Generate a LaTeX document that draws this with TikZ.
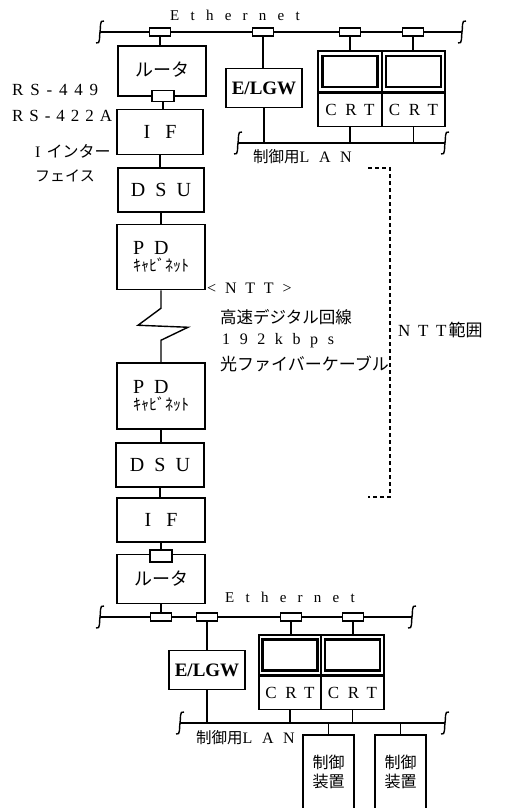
\documentclass[tikz,border=0pt]{standalone}
\usepackage{fontspec}
\setmainfont{Liberation Serif}
\newfontfamily\jp{Noto Sans CJK JP}
\newcommand{\fsz}[1]{\fontsize{#1}{#1}\selectfont}
\newcommand{\ls}[2]{{\addfontfeature{LetterSpace=#1}#2}}
\tikzset{
  box/.style={draw,line width=1.5pt,inner sep=0pt},
  tap/.style={draw,fill=white,line width=1.2pt,minimum width=21pt,minimum height=8pt,inner sep=0pt},
  scr/.style={draw,line width=2.2pt,minimum width=55pt,minimum height=31pt,inner sep=0pt},
  ctl/.style={minimum width=51pt,minimum height=74pt,anchor=north,inner sep=0pt,align=center,font=\jp\fsz{16}},
  wire/.style={line width=1.4pt},
  lbl/.style={anchor=west,inner sep=0pt},
  brk/.pic={\draw[line width=1.4pt] (4,-11) .. controls (-1,-13) and (1,-3) .. (0,0) .. controls (-1,3) and (1,13) .. (-4,11);}
}
\begin{document}
\begin{tikzpicture}[x=1pt,y=-1pt]
\useasboundingbox (0,0) rectangle (504,808);
% upper site
\coordinate (e1a) at (100,32);
\coordinate (e1b) at (462,32);
\coordinate (l1a) at (238,143);
\coordinate (l1b) at (445,143);
\draw[wire] (e1a) -- (e1b);
\draw[wire] (l1a) -- (l1b);
\pic at (e1a) {brk}; \pic at (e1b) {brk};
\pic at (l1a) {brk}; \pic at (l1b) {brk};
\node[lbl] (eth1) at (170,15) {\fsz{15}\ls{75}{Ethernet}};
\node[tap] (ta1) at (160,32) {};
\node[tap] (tb1) at (263,32) {};
\node[tap] (tc1) at (350,32) {};
\node[tap] (td1) at (413,32) {};
\node[box,minimum width=88pt,minimum height=50pt] (rt1) at (162,71) {\raisebox{3pt}{\jp\fsz{18}ルータ}};
\node[tap,minimum width=22pt,minimum height=11pt] (tr1) at (163,96) {};
\node[box,minimum width=86pt,minimum height=45pt] (if1) at (160,132) {\fsz{20}\ls{75}{IF}};
\node[box,minimum width=86pt,minimum height=44pt] (dsu1) at (161,190) {\fsz{20}\ls{50}{DSU}};
\node[box,minimum width=88pt,minimum height=65pt,align=left] (pd1) at (161,257) {\fsz{20}\ls{50}{PD}\\[2pt]\jp\fsz{16}ｷｬﾋﾞﾈｯﾄ};
\node[box,minimum width=76pt,minimum height=39pt] (gw1) at (264,88) {\fsz{19}\bfseries E/LGW};
\node[box,minimum width=64pt,minimum height=41pt] (cs1) at (350,71.5) {};
\node[scr] (sc1) at (cs1) {};
\node[box,minimum width=64pt,minimum height=33pt,anchor=north] (cr1) at (cs1.south) {\fsz{17}\ls{50}{CRT}};
\node[box,minimum width=63pt,minimum height=41pt] (cs2) at (413.5,71.5) {};
\node[scr] (sc2) at (cs2) {};
\node[box,minimum width=63pt,minimum height=33pt,anchor=north] (cr2) at (cs2.south) {\fsz{17}\ls{50}{CRT}};
\node[lbl] (lan1) at (253,157) {\jp\fsz{15.5}制御用\rmfamily\fsz{16}\ls{60}{LAN}};
\draw[wire] (ta1.south) -- (ta1.south |- rt1.north);
\draw[wire] (tr1.south) -- (tr1.south |- if1.north);
\draw[wire] (if1.south) -- (if1.south |- dsu1.north);
\draw[wire] (dsu1.south) -- (dsu1.south |- pd1.north);
\draw[wire] (tb1.south) -- (tb1.south |- gw1.north);
\draw[wire] (gw1.south) -- (gw1.south |- l1a);
\draw[wire] (tc1.south) -- (tc1.south |- cs1.north);
\draw[wire] (td1.south) -- (td1.south |- cs2.north);
\draw[wire] (cr1.south) -- (cr1.south |- l1a);
\draw[wire] (cr2.south) -- (cr2.south |- l1a);
\node[lbl] (rs1) at (12,90) {\fsz{17}\ls{40}{RS-449}};
\node[lbl] (rs2) at (12,116) {\fsz{17}\ls{35}{RS-422A}};
\node[lbl] (ifn1) at (35,151) {\fsz{16}I\kern6pt\jp インター};
\node[lbl] (ifn2) at (35,176) {\jp\fsz{15}フェイス};
% NTT line
\node[box,minimum width=88pt,minimum height=66pt,align=left] (pd2) at (161,396) {\fsz{20}\ls{50}{PD}\\[2pt]\jp\fsz{16}ｷｬﾋﾞﾈｯﾄ};
\draw[wire] (pd1.south) -- ++(0,18) -- ++(-23,17) -- ++(50,2) -- ++(-27,13) -- (pd2.north);
\node[lbl] (ntt) at (207,288) {\fsz{16}\ls{55}{<NTT>}};
\node[lbl] (ln1) at (220,317) {\jp\fsz{16.5}高速デジタル回線};
\node[lbl] (ln2) at (222,341) {\fsz{16}\ls{60}{192kbps}};
\node[lbl] (ln3) at (220,364) {\jp\fsz{17}光ファイバーケーブル};
\coordinate (nt1) at (368,168);
\coordinate (nt2) at (368,497);
\draw[line width=1.6pt,dash pattern=on 4pt off 3pt] (nt1) -- ++(22,0) |- (nt2);
\node[lbl] (ntta) at (398,330) {\fsz{17}\ls{45}{NTT}\kern2pt\jp 範囲};
% lower site
\node[box,minimum width=88pt,minimum height=44pt] (dsu2) at (160,465) {\fsz{20}\ls{50}{DSU}};
\node[box,minimum width=88pt,minimum height=44pt] (if2) at (161,520) {\fsz{20}\ls{75}{IF}};
\node[box,minimum width=88pt,minimum height=49pt] (rt2) at (161,579) {\raisebox{-3pt}{\jp\fsz{18}ルータ}};
\node[tap,minimum width=22pt,minimum height=12pt] (tr2) at (161,556) {};
\draw[wire] (pd2.south) -- (pd2.south |- dsu2.north);
\draw[wire] (dsu2.south) -- (dsu2.south |- if2.north);
\draw[wire] (if2.south) -- (tr2.north);
\coordinate (e2a) at (100,617);
\coordinate (e2b) at (412,617);
\coordinate (l2a) at (180,723);
\coordinate (l2b) at (445,723);
\draw[wire] (e2a) -- (e2b);
\draw[wire] (l2a) -- (l2b);
\pic at (e2a) {brk}; \pic at (e2b) {brk};
\pic at (l2a) {brk}; \pic at (l2b) {brk};
\node[lbl] (eth2) at (225,597) {\fsz{15}\ls{75}{Ethernet}};
\node[tap] (ta2) at (161,617) {};
\node[tap] (tb2) at (207,617) {};
\node[tap] (tc2) at (291,617) {};
\node[tap] (td2) at (353,617) {};
\node[box,minimum width=76pt,minimum height=39pt] (gw2) at (207,670) {\fsz{19}\bfseries E/LGW};
\node[box,minimum width=62pt,minimum height=40pt] (cs3) at (290,655) {};
\node[scr] (sc3) at (cs3) {};
\node[box,minimum width=62pt,minimum height=33pt,anchor=north] (cr3) at (cs3.south) {\fsz{17}\ls{50}{CRT}};
\node[box,minimum width=63pt,minimum height=40pt] (cs4) at (352.5,655) {};
\node[scr] (sc4) at (cs4) {};
\node[box,minimum width=63pt,minimum height=33pt,anchor=north] (cr4) at (cs4.south) {\fsz{17}\ls{50}{CRT}};
\node[lbl] (lan2) at (196,738) {\jp\fsz{15.5}制御用\rmfamily\fsz{16}\ls{60}{LAN}};
\node[ctl] (ctl1) at (328.5,735) {制御\\[3pt]装置};
\node[ctl] (ctl2) at (400.5,735) {制御\\[3pt]装置};
\draw[line width=1.5pt] (ctl1.south west) -- (ctl1.north west) -- (ctl1.north east) -- (ctl1.south east);
\draw[line width=1.5pt] (ctl2.south west) -- (ctl2.north west) -- (ctl2.north east) -- (ctl2.south east);
\draw[wire] (rt2.south) -- (ta2.north);
\draw[wire] (tb2.south) -- (gw2.north);
\draw[wire] (gw2.south) -- (gw2.south |- l2a);
\draw[wire] (tc2.south) -- (tc2.south |- cs3.north);
\draw[wire] (td2.south) -- (td2.south |- cs4.north);
\draw[wire] (cr3.south) -- (cr3.south |- l2a);
\draw[wire] (cr4.south) -- (cr4.south |- l2a);
\draw[wire] (ctl1.north) -- (ctl1.north |- l2a);
\draw[wire] (ctl2.north) -- (ctl2.north |- l2a);
\end{tikzpicture}
\end{document}
